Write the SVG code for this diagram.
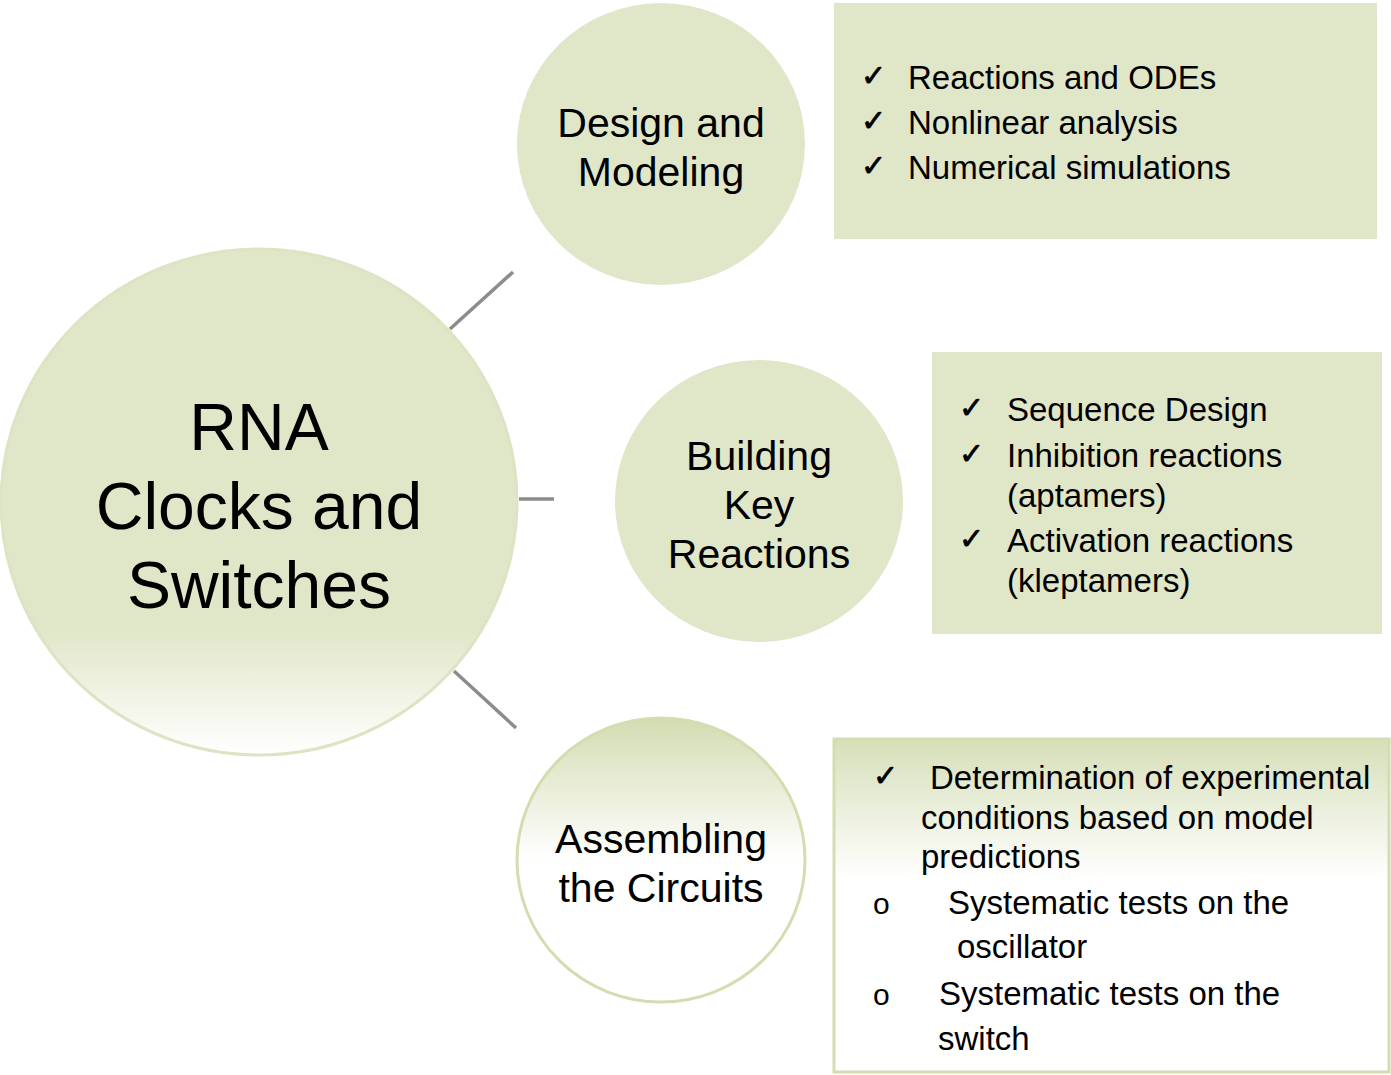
<svg xmlns="http://www.w3.org/2000/svg" width="1391" height="1075" viewBox="0 0 1391 1075">
<defs>
<linearGradient id="gMain" x1="0" y1="0" x2="0" y2="1">
<stop offset="0" stop-color="#e0e6c8"/>
<stop offset="0.75" stop-color="#e0e6c8"/>
<stop offset="1" stop-color="#ffffff"/>
</linearGradient>
<linearGradient id="gAsm" x1="0" y1="0" x2="0" y2="1">
<stop offset="0" stop-color="#d3dcb2"/>
<stop offset="0.5" stop-color="#ffffff"/>
<stop offset="1" stop-color="#ffffff"/>
</linearGradient>
<linearGradient id="gBox3" x1="0" y1="0" x2="0" y2="1">
<stop offset="0" stop-color="#d6dfb8"/>
<stop offset="0.42" stop-color="#ffffff"/>
<stop offset="1" stop-color="#ffffff"/>
</linearGradient>
</defs>
<style>
.t{font-family:"Liberation Sans",Arial,sans-serif;fill:#000}
.c{font-size:41px;text-anchor:middle}
.b{font-size:33px}
.ck{font-family:"DejaVu Sans",sans-serif;font-size:30px;fill:#000;stroke:#000;stroke-width:0.8}
.o{font-family:"Liberation Sans",Arial,sans-serif;font-size:30px;fill:#000}
.ln{stroke:#8c8c8c;stroke-width:3.5;fill:none}
.flat{fill:#e0e6c8}
</style>
<g id="connectors">
<line class="ln" x1="450" y1="329" x2="513" y2="272"/>
<line class="ln" x1="519" y1="499" x2="554" y2="499"/>
<line class="ln" x1="454" y1="671" x2="516" y2="728"/>
</g>
<g id="main">
<ellipse cx="259" cy="502" rx="258" ry="253" fill="url(#gMain)" stroke="#dde4c3" stroke-width="3"/>
<text class="t" x="259" y="450" font-size="66" text-anchor="middle">RNA</text>
<text class="t" x="259" y="529" font-size="66" text-anchor="middle">Clocks and</text>
<text class="t" x="259" y="608" font-size="66" text-anchor="middle">Switches</text>
</g>
<g id="design">
<ellipse cx="661" cy="144" rx="144" ry="141" class="flat"/>
<text class="t c" x="661" y="137">Design and</text>
<text class="t c" x="661" y="186">Modeling</text>
</g>
<g id="building">
<ellipse cx="759" cy="501" rx="144" ry="141" class="flat"/>
<text class="t c" x="759" y="470">Building</text>
<text class="t c" x="759" y="519">Key</text>
<text class="t c" x="759" y="568">Reactions</text>
</g>
<g id="assembling">
<ellipse cx="661" cy="860" rx="144" ry="142" fill="url(#gAsm)" stroke="#d3ddb0" stroke-width="3"/>
<text class="t c" x="661" y="853">Assembling</text>
<text class="t c" x="661" y="902">the Circuits</text>
</g>
<g id="box1">
<rect x="834" y="3" width="543" height="236" class="flat"/>
<text class="ck" x="861" y="86">✓</text>
<text class="ck" x="861" y="131">✓</text>
<text class="ck" x="861" y="176">✓</text>
<text class="t b" x="908" y="89">Reactions and ODEs</text>
<text class="t b" x="908" y="134">Nonlinear analysis</text>
<text class="t b" x="908" y="179">Numerical simulations</text>
</g>
<g id="box2">
<rect x="932" y="352" width="450" height="282" class="flat"/>
<text class="ck" x="959" y="418">✓</text>
<text class="ck" x="959" y="464">✓</text>
<text class="ck" x="959" y="549">✓</text>
<text class="t b" x="1007" y="421">Sequence Design</text>
<text class="t b" x="1007" y="467">Inhibition reactions</text>
<text class="t b" x="1007" y="507">(aptamers)</text>
<text class="t b" x="1007" y="552">Activation reactions</text>
<text class="t b" x="1007" y="592">(kleptamers)</text>
</g>
<g id="box3">
<rect x="834" y="739" width="555" height="333" fill="url(#gBox3)" stroke="#d3ddb0" stroke-width="3"/>
<text class="ck" x="873" y="786">✓</text>
<text class="t b" x="930" y="789">Determination of experimental</text>
<text class="t b" x="921" y="829">conditions based on model</text>
<text class="t b" x="921" y="868">predictions</text>
<text class="o" x="873" y="914">o</text>
<text class="t b" x="948" y="914">Systematic tests on the</text>
<text class="t b" x="957" y="958">oscillator</text>
<text class="o" x="873" y="1005">o</text>
<text class="t b" x="939" y="1005">Systematic tests on the</text>
<text class="t b" x="938" y="1050">switch</text>
</g>
</svg>
